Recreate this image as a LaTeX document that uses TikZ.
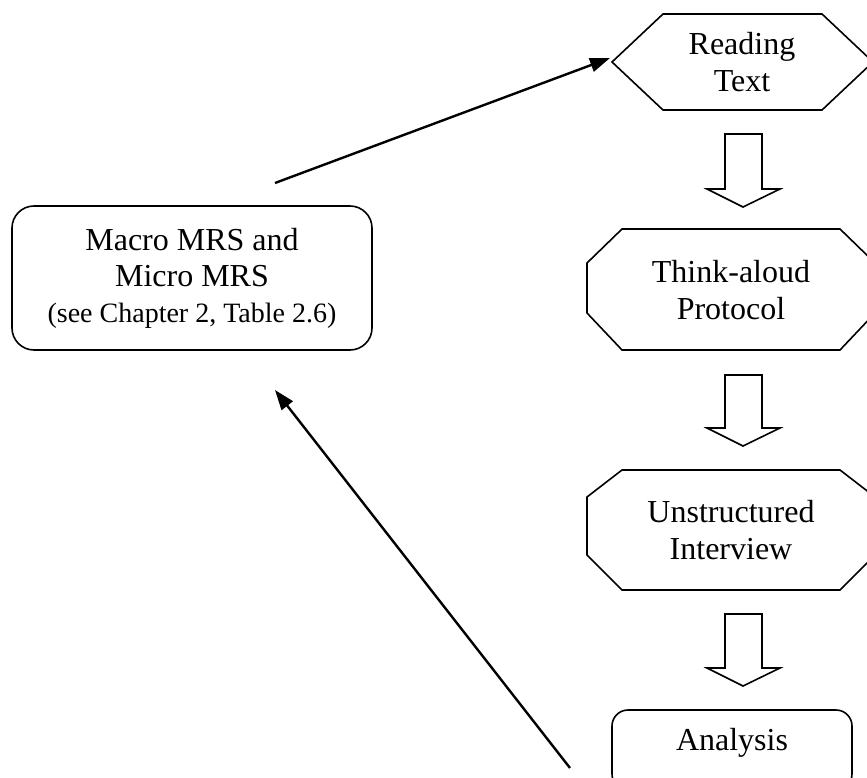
\documentclass[tikz,border=0pt]{standalone}
\usepackage{fontspec}
\setmainfont{Liberation Serif}
\usetikzlibrary{arrows.meta}
\begin{document}
\begin{tikzpicture}[x=1pt,y=-1pt,
  shapeline/.style={draw=black,line width=1.6pt,line join=miter},
  txt/.style={align=center,font=\fontsize{32}{37}\selectfont,inner sep=0pt},
  blockarrow/.style={draw=black,line width=1.6pt,fill=white},
  thinarrow/.style={draw=black,line width=2.4pt,-{Triangle[length=20pt,width=14pt]}}]
\useasboundingbox (0,0) rectangle (867,778);
% Reading Text hexagon
\draw[shapeline] (612,62) -- (663,14) -- (822,14) -- (873,62) -- (822,110) -- (663,110) -- cycle;
\node[txt] (read) at (742,62) {Reading\\Text};
% Think-aloud octagon
\draw[shapeline] (587,263) -- (622,229) -- (840,229) -- (875,263) -- (875,313) -- (840,350) -- (622,350) -- (587,313) -- cycle;
\node[txt] (think) at (731,290) {Think-aloud\\Protocol};
% Unstructured octagon
\draw[shapeline] (587,497) -- (622,470) -- (840,470) -- (875,497) -- (875,555) -- (840,590) -- (622,590) -- (587,555) -- cycle;
\node[txt] (unstr) at (731,530) {Unstructured\\Interview};
% Analysis
\draw[shapeline,rounded corners=16pt] (612,710) rectangle (852,790);
\node[txt] (anal) at (732,743) {Analysis};
% Macro box
\draw[shapeline,rounded corners=22pt] (12,206) rectangle (372,350);
\node[align=center,inner sep=0pt,font=\fontsize{32}{36}\selectfont] (macro) at (192,278) {Macro MRS and\\Micro MRS\\{\fontsize{28}{36}\selectfont (see Chapter 2, Table 2.6)}};
% block arrows
\foreach \t/\b/\p in {134/189/207, 375/428/446, 614/668/686}{
  \draw[blockarrow] (725,\t) -- (762,\t) -- (762,\b) -- (780,\b) -- (743,\p) -- (707,\b) -- (725,\b) -- cycle;
}
% thin arrows
\coordinate (a1s) at (275,183);
\coordinate (a1e) at (610,58);
\coordinate (a2s) at (570,768);
\coordinate (a2e) at (275,390);
\draw[thinarrow] (a1s) -- (a1e);
\draw[thinarrow] (a2s) -- (a2e);
\end{tikzpicture}
\end{document}
